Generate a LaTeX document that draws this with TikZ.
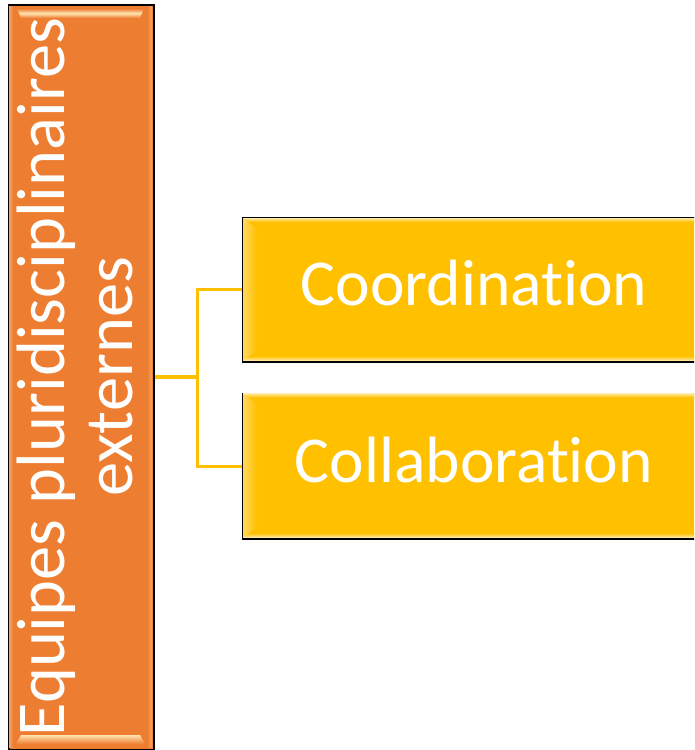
\documentclass[tikz,border=0pt]{standalone}
\usepackage{fontspec}
\setmainfont{Carlito}[Ligatures={NoCommon,NoDiscretionary}]
\definecolor{orangeA}{HTML}{ED7D31}
\definecolor{goldA}{HTML}{FFC000}
\definecolor{hiO}{HTML}{FFE4B0}
\definecolor{hiY}{HTML}{FFFF85}
\definecolor{edgeY}{HTML}{FFD860}
\begin{document}
\begin{tikzpicture}[x=1pt,y=-1pt,
  obox/.style={draw=black, line width=1.5pt, fill=orangeA, inner sep=0pt, anchor=north west},
  ybox/.style={draw=black, line width=1.5pt, fill=goldA, inner sep=0pt, anchor=north west},
  vtext/.style={text=white, align=center, inner sep=0pt, font=\fontsize{68.5}{67.5}\selectfont},
  htext/.style={text=white, inner sep=0pt, font=\fontsize{65.5}{70}\selectfont},
  trunkline/.style={draw=goldA, line width=4pt},
  branchline/.style={draw=goldA, line width=3pt}]
\useasboundingbox (0,0) rectangle (694,750);
\clip (0,0) rectangle (694,750);
\fill[white] (0,0) rectangle (694,750);

% left orange box
\node[obox, minimum width=145pt, minimum height=745pt] (left) at (8,4) {};
\shade[top color=orangeA, bottom color=orangeA, middle color=hiO] (17,8.5) -- (144,8.5) -- (140,18) -- (21,18) -- cycle;
\shade[top color=hiO, bottom color=orangeA] (21,735) -- (140,735) -- (145,744) -- (16,744) -- cycle;
\shade[left color=orangeA!60!hiO, right color=orangeA] (9,6) rectangle (13,747);
\shade[left color=orangeA, right color=orangeA!60!hiO] (147,6) rectangle (152,747);
\node[vtext, rotate=90] (lefttext) at (75,377) {Equipes pluridisciplinaires\\externes};

% right boxes
\node[ybox, minimum width=466pt, minimum height=144pt] (coord) at (241.5,217) {};
\node[ybox, minimum width=466pt, minimum height=145.5pt] (collab) at (241.5,392.5) {};
\foreach \t/\b in {217/361, 392.5/538}{
  \shade[top color=edgeY!60!white, bottom color=goldA] (243,\t+1) rectangle (694,\t+5);
  \shade[top color=goldA, bottom color=goldA!40!white] (243,\b-5) rectangle (694,\b-1);
  \shade[left color=edgeY, middle color=hiY, right color=goldA] (243,\t+1) -- (257,\t+12) -- (257,\b-10) -- (243,\b-1) -- cycle;
}
\node[htext, anchor=base] (coordtext) at (474,305) {Coordination};
\node[htext, anchor=base] (collabtext) at (474,482) {Collaboration};

% connectors
\coordinate (j) at (197,377);
\draw[trunkline] (left.east |- j) -- (j);
\draw[branchline] (j) |- (coord.west);
\draw[branchline] (j) |- (collab.west);
\end{tikzpicture}
\end{document}
